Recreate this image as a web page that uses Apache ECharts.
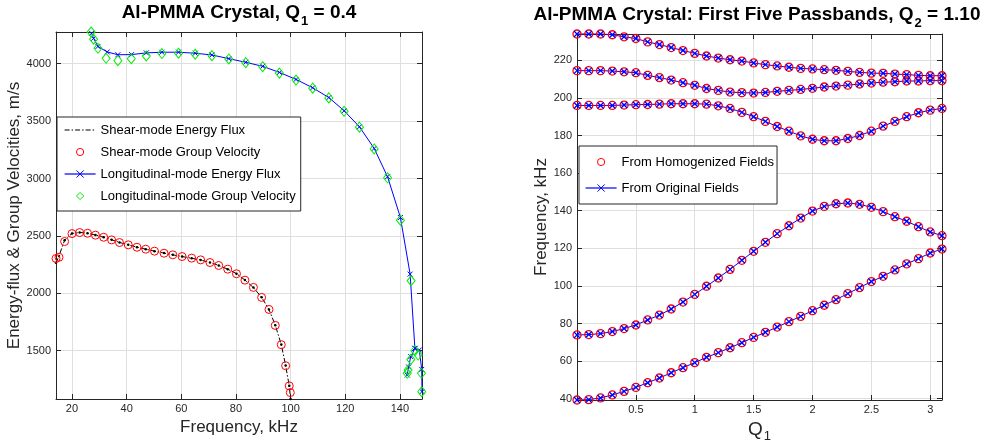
<!DOCTYPE html>
<html>
<head>
<meta charset="utf-8">
<script src="https://cdn.jsdelivr.net/npm/echarts@6/dist/echarts.min.js"></script>
<style>
  html, body { margin: 0; padding: 0; background: #ffffff; }
  #chart { width: 988px; height: 444px; }
</style>
</head>
<body>
<div id="chart"></div>
<script>
// ---------- Left panel: energy flux and group velocity, Q1 = 0.4 ----------
const shearGroupFreq = [14.15, 15.25, 17.3, 20.0, 22.8, 25.7, 28.6, 31.6, 34.5, 37.4, 40.6, 43.8, 47.0, 50.2, 53.7, 56.9,
  60.3, 63.8, 67.1, 70.5, 73.7, 77.0, 80.2, 83.3, 86.4, 89.4, 92.1, 94.4, 96.6, 98.2, 99.5, 99.9];
const shearGroupVel = [2303, 2314, 2451, 2520, 2529, 2523, 2506, 2488, 2465, 2442, 2422, 2401, 2384, 2367, 2349, 2335,
  2320, 2306, 2291, 2268, 2242, 2210, 2170, 2114, 2051, 1964, 1859, 1720, 1552, 1369, 1193, 1135];

const shearFluxFreq = [14.15, 15.25, 17.3, 20.0, 22.8, 25.7, 28.6, 31.6, 34.5, 37.4, 40.6, 43.8, 47.0, 50.2, 53.7, 56.9,
  60.3, 63.8, 67.1, 70.5, 73.7, 77.0, 80.2, 83.3, 86.4, 89.4, 92.1, 94.4, 96.6, 98.2, 99.5, 100.0];
const shearFluxVel = [2265, 2325, 2462, 2521, 2530, 2523, 2507, 2488, 2466, 2443, 2422, 2402, 2384, 2367, 2350, 2335,
  2320, 2305, 2290, 2268, 2243, 2210, 2171, 2115, 2050, 1965, 1858, 1722, 1553, 1370, 1195, 1079];

const longGroupFreq = [27.0, 27.9, 29.5, 32.5, 36.8, 41.7, 47.2, 52.9, 59.0, 65.1, 71.2, 77.4, 83.6, 89.8, 95.9, 102.0,
  108.1, 114.0, 119.6, 125.2, 130.6, 135.5, 140.2, 144.1, 142.7, 143.0, 144.0, 145.5, 146.7, 147.9, 148.0];
const longGroupVel = [4276, 4213, 4134, 4047, 4026, 4044, 4067, 4088, 4091, 4082, 4070, 4041, 4009, 3974, 3918, 3857,
  3787, 3702, 3585, 3447, 3257, 3006, 2637, 2109, 1303, 1332, 1424, 1500, 1462, 1303, 1143];

const longFluxFreq = [27.15, 27.9, 29.5, 32.9, 36.8, 41.8, 47.2, 52.9, 59.0, 65.1, 71.2, 77.4, 83.6, 89.8, 95.9, 102.0,
  108.1, 114.0, 119.6, 125.2, 130.6, 135.5, 140.2, 143.75, 145.5, 147.1, 148.0, 148.1];
const longFluxVel = [4265, 4221, 4150, 4102, 4078, 4079, 4094, 4100, 4100, 4091, 4076, 4044, 4012, 3977, 3924, 3863,
  3790, 3705, 3590, 3450, 3262, 3015, 2660, 2167, 1520, 1506, 1337, 1143];
// second branch of the longitudinal flux curve near the band edge
const longFluxBranchFreq = [145.5, 144.0, 143.2, 142.7];
const longFluxBranchVel = [1520, 1448, 1358, 1288];

const leftXTicks = [20, 40, 60, 80, 100, 120, 140];
const leftYTicks = [1500, 2000, 2500, 3000, 3500, 4000];

// ---------- Right panel: first five passbands, Q2 = 1.10 ----------
const q1 = [0, 0.1, 0.2, 0.3, 0.4, 0.5, 0.6, 0.7, 0.8, 0.9, 1.0, 1.1, 1.2, 1.3, 1.4, 1.5,
  1.6, 1.7, 1.8, 1.9, 2.0, 2.1, 2.2, 2.3, 2.4, 2.5, 2.6, 2.7, 2.8, 2.9, 3.0, 3.1];
const band1 = [39.3, 39.5, 40.4, 42.0, 43.9, 46.0, 48.5, 51.0, 53.8, 56.5, 59.2, 62.0, 64.5, 67.1, 69.8, 72.6,
  75.3, 78.1, 81.0, 83.8, 86.8, 89.7, 92.7, 95.9, 99.1, 102.3, 105.1, 108.5, 111.7, 114.5, 117.5, 119.6];
const band2 = [73.9, 74.1, 74.6, 75.7, 77.3, 79.2, 81.9, 84.5, 87.7, 91.4, 95.5, 99.8, 104.2, 108.8, 113.6, 118.4,
  123.2, 127.8, 132.0, 136.1, 139.8, 142.3, 143.7, 144.1, 143.4, 141.8, 139.5, 136.8, 134.4, 131.5, 128.7, 126.7];
const band3 = [196.0, 196.0, 196.0, 196.0, 196.2, 196.4, 196.5, 196.7, 196.9, 196.9, 196.9, 196.7, 195.8, 194.4, 192.3, 190.0,
  187.5, 184.8, 182.3, 179.8, 178.0, 177.2, 177.2, 178.4, 180.0, 182.3, 185.0, 187.5, 190.0, 192.1, 193.5, 194.4];
const band4 = [214.5, 214.5, 214.5, 214.3, 213.9, 213.4, 212.0, 210.8, 209.5, 208.1, 206.7, 205.0, 204.0, 203.1, 202.8, 202.6,
  202.9, 203.5, 204.0, 204.5, 205.1, 205.8, 206.3, 206.8, 207.4, 207.9, 208.4, 208.6, 209.0, 209.0, 209.2, 209.2];
const band5 = [234.0, 234.0, 234.0, 233.6, 232.5, 231.6, 229.8, 228.4, 226.8, 225.2, 223.7, 222.3, 221.2, 220.3, 219.6, 218.6,
  217.7, 217.0, 216.3, 215.7, 215.4, 215.0, 214.7, 214.1, 213.6, 213.2, 213.1, 212.7, 212.4, 212.0, 211.8, 211.8];
const bands = [band1, band2, band3, band4, band5];

const rightXTicks = [0.5, 1, 1.5, 2, 2.5, 3];
const rightYTicks = [40, 60, 80, 100, 120, 140, 160, 180, 200, 220];

// ---------- styling ----------
const FONT = '"Liberation Sans", Helvetica, Arial, sans-serif';
const AXIS_COLOR = '#262626';
const GRID_COLOR = '#dfdfdf';
const RED = '#ff0000', BLUE = '#0000ff', GREEN = '#00ee00', BLACK = '#000000';
const X_MARK = 'path://M0,0L10,10M10,0L0,10';
// dash-dot legend sample on a 31x9 box (corner moves fix the box size)
const DASH_DOT_ICON = 'path://M0,0M31,9M0,4h5v1h-5zM7,4h1.5v1h-1.5zM10.5,4h5v1h-5zM17.5,4h1.5v1h-1.5zM21,4h5v1h-5zM28,4h1.5v1h-1.5z';

const zip = (xs, ys) => xs.map((x, i) => [x, ys[i]]);

const leftX = [].concat(shearGroupFreq, shearFluxFreq, longGroupFreq, longFluxFreq);
const leftY = [].concat(shearGroupVel, shearFluxVel, longGroupVel, longFluxVel);
const rightY = [].concat(...bands);

function axis(dir, pos, grid, min, max, ticks, extra) {
  const primary = (pos === 'bottom' || pos === 'left');
  return Object.assign({
    type: 'value', gridIndex: grid, position: pos, min: min, max: max,
    axisLine: { show: true, onZero: false, lineStyle: { color: AXIS_COLOR, width: 1 } },
    axisTick: { show: true, inside: true, length: 5, customValues: ticks, lineStyle: { color: AXIS_COLOR, width: 1 } },
    axisLabel: {
      show: primary, customValues: ticks, margin: dir === 'x' ? 4 : 5,
      color: AXIS_COLOR, fontSize: 11, fontFamily: FONT,
      formatter: v => String(v)
    },
    splitLine: { show: primary, lineStyle: { color: GRID_COLOR, width: 1 } },
    silent: true
  }, extra || {});
}

const axisNameStyle = { fontSize: 17, color: AXIS_COLOR, fontFamily: FONT };

const xAxes = [
  axis('x', 'bottom', 0, Math.min(...leftX), Math.max(...leftX), leftXTicks,
    { name: 'Frequency, kHz', nameLocation: 'middle', nameGap: 11, nameTextStyle: axisNameStyle }),
  axis('x', 'top', 0, Math.min(...leftX), Math.max(...leftX), leftXTicks),
  axis('x', 'bottom', 1, Math.min(...q1), Math.max(...q1), rightXTicks, {
    name: '{q|Q}{s|1}', nameLocation: 'middle', nameGap: 10,
    nameTextStyle: {
      rich: {
        q: { fontSize: 19, color: AXIS_COLOR, fontFamily: FONT, verticalAlign: 'top', lineHeight: 22 },
        s: { fontSize: 13, color: AXIS_COLOR, fontFamily: FONT, verticalAlign: 'top', lineHeight: 15, padding: [10, 0, 0, 1] }
      }
    }
  }),
  axis('x', 'top', 1, Math.min(...q1), Math.max(...q1), rightXTicks)
];

const yAxes = [
  axis('y', 'left', 0, Math.min(...leftY), Math.max(...leftY), leftYTicks,
    { name: 'Energy-flux & Group Velocities, m/s', nameLocation: 'middle', nameGap: 29, nameTextStyle: axisNameStyle }),
  axis('y', 'right', 0, Math.min(...leftY), Math.max(...leftY), leftYTicks),
  axis('y', 'left', 1, Math.min(...rightY), Math.max(...rightY), rightYTicks,
    { name: 'Frequency, kHz', nameLocation: 'middle', nameGap: 25, nameTextStyle: axisNameStyle }),
  axis('y', 'right', 1, Math.min(...rightY), Math.max(...rightY), rightYTicks)
];

function markers(name, data, symbol, size, color, xi, yi, width) {
  return {
    type: 'line', name: name, data: data, xAxisIndex: xi, yAxisIndex: yi,
    symbol: symbol, symbolSize: size, showSymbol: true,
    lineStyle: { width: 0, color: 'rgba(0,0,0,0)' },
    itemStyle: { color: 'rgba(0,0,0,0)', borderColor: color, borderWidth: width || 1 },
    animation: false, silent: true, clip: false
  };
}

function curve(name, data, color, xi, yi, opts) {
  opts = opts || {};
  return {
    type: 'line', name: name, data: data, xAxisIndex: xi, yAxisIndex: yi,
    symbol: opts.symbol || 'none', symbolSize: opts.size || 6, showSymbol: !!opts.symbol,
    lineStyle: { width: 1, color: color, type: opts.dash || 'solid' },
    itemStyle: { color: color, borderColor: color, borderWidth: opts.markWidth || 1 },
    animation: false, silent: true, clip: false
  };
}

const series = [];
// left panel
series.push(curve('Shear-mode Energy Flux', zip(shearFluxFreq, shearFluxVel), BLACK, 0, 0, { dash: [5, 2, 1.5, 2] }));
series.push(Object.assign(
  markers('Shear-mode Energy Flux', zip(shearFluxFreq, shearFluxVel), 'circle', 2.5, BLACK, 0, 0),
  { itemStyle: { color: BLACK, borderWidth: 0 } }));
series.push(markers('Shear-mode Group Velocity', zip(shearGroupFreq, shearGroupVel), 'circle', 8, RED, 0, 0));
series.push(curve('Longitudinal-mode Energy Flux', zip(longFluxFreq, longFluxVel), BLUE, 0, 0, { symbol: X_MARK, size: 5 }));
series.push(curve('Longitudinal-mode Energy Flux', zip(longFluxBranchFreq, longFluxBranchVel), BLUE, 0, 0, { symbol: X_MARK, size: 5 }));
series.push(markers('Longitudinal-mode Group Velocity', zip(longGroupFreq, longGroupVel), 'diamond', [8, 10], GREEN, 0, 0));

// right panel
bands.forEach(b => series.push(markers('From Homogenized Fields', zip(q1, b), 'circle', 8, RED, 2, 2, 1.3)));
bands.forEach(b => series.push(curve('From Original Fields', zip(q1, b), BLUE, 2, 2, { symbol: X_MARK, size: 6, markWidth: 1.3 })));

const legendBase = {
  orient: 'vertical', selectedMode: false,
  backgroundColor: '#ffffff', borderColor: AXIS_COLOR, borderWidth: 1, borderRadius: 0,
  itemWidth: 31, itemHeight: 9,
  itemStyle: { borderWidth: 1 },
  lineStyle: { width: 1.2 },
  textStyle: { fontSize: 13, color: '#000000', fontFamily: FONT, lineHeight: 14 }
};

const titleRich = (size) => ({
  t: { fontSize: size, fontWeight: 'bold', fontFamily: FONT, fill: '#000', color: '#000', verticalAlign: 'top', lineHeight: 22 },
  s: { fontSize: 13, fontWeight: 'bold', fontFamily: FONT, fill: '#000', color: '#000', verticalAlign: 'top', lineHeight: 15, padding: [12, 0, 0, 1] }
});

const option = {
  animation: false,
  backgroundColor: '#ffffff',
  grid: [
    { left: 56, top: 32, width: 366, height: 367, containLabel: false, outerBoundsMode: 'none' },
    { left: 577, top: 34, width: 365, height: 366, containLabel: false, outerBoundsMode: 'none' }
  ],
  xAxis: xAxes,
  yAxis: yAxes,
  legend: [
    Object.assign({}, legendBase, {
      left: 57, top: 117, padding: [6, 5, 8, 7], itemGap: 8,
      data: [
        { name: 'Shear-mode Energy Flux', icon: DASH_DOT_ICON, itemStyle: { color: BLACK, borderWidth: 0 } },
        'Shear-mode Group Velocity', 'Longitudinal-mode Energy Flux', 'Longitudinal-mode Group Velocity'
      ]
    }),
    Object.assign({}, legendBase, {
      left: 579, top: 146, padding: [9, 3, 9, 6], itemGap: 12,
      data: ['From Homogenized Fields', 'From Original Fields']
    })
  ],
  graphic: [
    {
      type: 'text', x: 239, y: 3, silent: true,
      style: { text: '{t|Al-PMMA Crystal, Q}{s|1}{t| = 0.4}', rich: titleRich(19), align: 'center', verticalAlign: 'top' }
    },
    {
      type: 'text', x: 757, y: 5, silent: true,
      style: { text: '{t|Al-PMMA Crystal: First Five Passbands, Q}{s|2}{t| = 1.10}', rich: titleRich(19), align: 'center', verticalAlign: 'top' }
    }
  ],
  series: series
};

const chart = echarts.init(document.getElementById('chart'), null, { renderer: 'canvas' });
chart.setOption(option);
</script>
</body>
</html>
